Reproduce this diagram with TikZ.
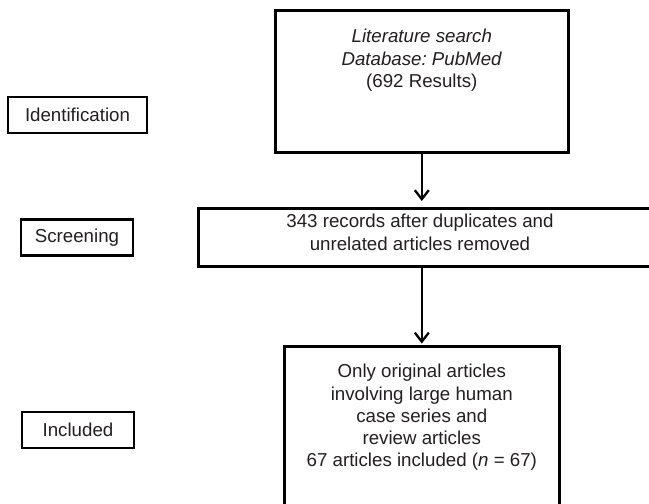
\documentclass[tikz,border=0pt]{standalone}
\usepackage{fontspec}
\setmainfont{Liberation Sans}
\usetikzlibrary{arrows.meta}
\definecolor{ink}{RGB}{35,31,32}
\frenchspacing
\begin{document}
\begin{tikzpicture}[x=1pt,y=-1pt,
  every node/.style={font=\fontsize{18.7}{22.3}\selectfont, text=ink},
  box/.style={draw=black, line width=2.6pt, rectangle, inner sep=0pt},
  stagebox/.style={box, minimum height=36pt},
  txt/.style={align=center, inner sep=0pt, anchor=north},
  flow/.style={line width=2.5pt, draw=black, -{Straight Barb[length=9pt,width=14pt,line width=2.3pt]}}]
\useasboundingbox (0,0) rectangle (649,504);
\clip (0,0) rectangle (649,504);
% stage labels
\node[stagebox, minimum width=139pt] (sid) at (77.5,115) {Identification};
\node[stagebox, minimum width=112pt] (sscr) at (77,237.5) {Screening};
\node[stagebox, minimum width=112pt] (sinc) at (78,430) {Included};
% main boxes
\node[box, anchor=north west, minimum width=293pt, minimum height=142pt] (lit) at (274,9) {};
\node[txt] (littxt) at ([yshift=-20pt]lit.north) {\textit{Literature search}\\\textit{Database: PubMed}\\(692 Results)};
\node[box, anchor=north west, minimum width=463pt, minimum height=58pt] (scr) at (197,207) {};
\node[txt] (scrtxt) at (420,214) {343 records after duplicates and\\unrelated articles removed};
\node[box, anchor=north west, minimum width=275pt, minimum height=175pt] (inc) at (283,345) {};
\node[txt] (inctxt) at ([yshift=-19pt]inc.north) {Only original articles\\involving large human\\case series and\\review articles\\67 articles included (\textit{n} = 67)};
% connectors
\draw[flow, shorten >=6pt] (lit.south) -- (lit.south |- scr.north);
\draw[flow, shorten >=1.5pt] (scr.south -| inc.north) -- (inc.north);
\end{tikzpicture}
\end{document}
